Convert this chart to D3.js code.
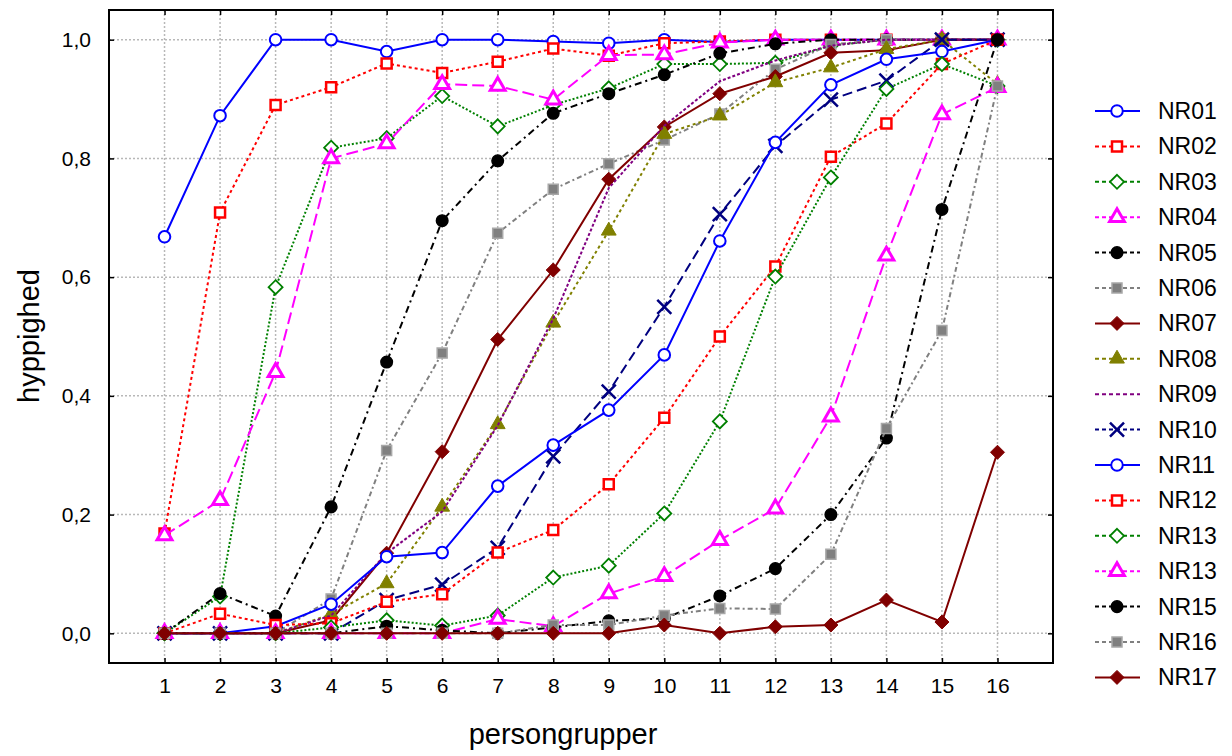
<!DOCTYPE html>
<html><head><meta charset="utf-8">
<script src="https://cdn.jsdelivr.net/npm/d3@7"></script>
<style>body{margin:0;background:#fff}svg{display:block}text{font-family:"Liberation Sans",Arial,sans-serif;fill:#000}</style>
</head><body><svg id="c" width="1232" height="756"></svg>
<script>
const groups = [1,2,3,4,5,6,7,8,9,10,11,12,13,14,15,16];
const yTicks = [0,0.2,0.4,0.6,0.8,1.0];
const seriesNames = ["NR01","NR02","NR03","NR04","NR05","NR06","NR07","NR08","NR09","NR10","NR11","NR12","NR13","NR13","NR15","NR16","NR17"];
const NR01 = [0.668,0.872,1,1,0.980,1,1,0.997,0.994,1,0.996,1,1,1,1,1];
const NR02 = [0.168,0.709,0.890,0.920,0.960,0.944,0.963,0.985,0.973,0.994,0.997,1,1,1,1,1];
const NR03 = [0,0.062,0.583,0.818,0.834,0.905,0.854,0.890,0.918,0.959,0.959,0.961,0.990,1,1,1];
const NR04 = [0.165,0.224,0.440,0.800,0.825,0.925,0.922,0.899,0.974,0.975,0.995,1,1,1,1,1];
const NR05 = [0,0.067,0.029,0.213,0.457,0.695,0.796,0.876,0.909,0.941,0.977,0.993,1,1,1,1];
const NR06 = [0,0,0,0.058,0.308,0.472,0.674,0.748,0.791,0.831,0.875,0.950,0.992,1,1,1];
const NR07 = [0,0,0,0.022,0.135,0.306,0.495,0.612,0.765,0.853,0.909,0.938,0.978,0.982,1,1];
const NR08 = [0,0,0,0.032,0.084,0.213,0.352,0.523,0.678,0.841,0.872,0.928,0.953,0.984,1,0.925];
const NR09 = [0,0,0,0.030,0.135,0.205,0.350,0.530,0.750,0.855,0.930,0.965,0.990,1,1,1];
const NR10 = [0,0,0,0,0.056,0.082,0.144,0.298,0.407,0.550,0.706,0.821,0.899,0.931,1,1];
const NR11 = [0,0,0.012,0.049,0.129,0.136,0.248,0.317,0.376,0.469,0.661,0.827,0.924,0.967,0.980,1];
const NR12 = [0,0.033,0.014,0.017,0.053,0.066,0.136,0.174,0.251,0.363,0.500,0.618,0.803,0.859,0.959,1];
const NR13 = [0,0,0,0.010,0.022,0.013,0.030,0.094,0.114,0.202,0.357,0.601,0.768,0.917,0.959,0.922];
const NR13b = [0,0,0,0,0,0,0.024,0.012,0.067,0.096,0.157,0.210,0.365,0.636,0.874,0.920];
const NR15 = [0,0,0,0,0.012,0.005,0,0.010,0.021,0.025,0.063,0.109,0.200,0.329,0.714,1];
const NR16 = [0,0,0,0,0,0,0,0.014,0.014,0.030,0.042,0.041,0.133,0.345,0.510,0.922];
const NR17 = [0,0,0,0,0,0,0,0,0,0.014,0,0.011,0.014,0.056,0.019,0.305];
const seriesValues = [NR01,NR02,NR03,NR04,NR05,NR06,NR07,NR08,NR09,NR10,NR11,NR12,NR13,NR13b,NR15,NR16,NR17];

// styles (kept separate from data)
const baseStyles = [
  {color:"#0000ff", dash:null, w:2, sym:"circle", fill:"#fff", stroke:"#0000ff", sw:2},
  {color:"#ff0000", dash:"3,3", w:2, sym:"square", fill:"#fff", stroke:"#ff0000", sw:2.5},
  {color:"#008000", dash:"2,2", w:2, sym:"diamond", fill:"#fff", stroke:"#008000", sw:1.8},
  {color:"#ff00ff", dash:"12,5", w:2, sym:"triangle", fill:"#fff", stroke:"#ff00ff", sw:3},
  {color:"#000000", dash:"7,4,2,4", w:2, sym:"circle", fill:"#000", stroke:"#000", sw:1.5},
  {color:"#808080", dash:"5,3,2,3", w:2, sym:"square", fill:"#808080", stroke:"#a8a8a8", sw:1.5},
  {color:"#800000", dash:null, w:2, sym:"diamond", fill:"#800000", stroke:"#800000", sw:1},
  {color:"#808000", dash:"3,3", w:2, sym:"triangle", fill:"#808000", stroke:"#808000", sw:1},
  {color:"#800080", dash:"3,2", w:2, sym:null},
  {color:"#000080", dash:"10,5", w:2, sym:"times", fill:"none", stroke:"#000080", sw:2.5}
];
const styles = seriesNames.map((n,i)=> i<10 ? baseStyles[i] : baseStyles[i-10]);

const svg = d3.select("#c");
const L=109, R=1053, T=10, B=663;
const x = d3.scaleLinear().domain([0,17]).range([L,R]);
const y = d3.scaleLinear().domain([-0.05,1.05]).range([B,T]);

// grid
const g = svg.append("g");
g.selectAll(".gx").data(groups).join("line")
  .attr("x1",d=>x(d)).attr("x2",d=>x(d)).attr("y1",T).attr("y2",B)
  .attr("stroke","#b8b8b8").attr("stroke-width",1.5).attr("stroke-dasharray","2,2");
g.selectAll(".gy").data(yTicks).join("line")
  .attr("x1",L).attr("x2",R).attr("y1",d=>y(d)).attr("y2",d=>y(d))
  .attr("stroke","#b8b8b8").attr("stroke-width",1.5).attr("stroke-dasharray","2,2");

// axes with inward ticks
const fmt = d=>d3.format(".1f")(d).replace(".",",");
const axB = svg.append("g").attr("transform",`translate(0,${B})`)
  .call(d3.axisBottom(x).tickValues(groups).tickSizeInner(-5).tickSizeOuter(0).tickPadding(15));
const axT = svg.append("g").attr("transform",`translate(0,${T})`)
  .call(d3.axisTop(x).tickValues(groups).tickSizeInner(-5).tickSizeOuter(0).tickFormat(""));
const axL = svg.append("g").attr("transform",`translate(${L},0)`)
  .call(d3.axisLeft(y).tickValues(yTicks).tickSizeInner(-5).tickSizeOuter(0).tickPadding(18).tickFormat(fmt));
const axR = svg.append("g").attr("transform",`translate(${R},0)`)
  .call(d3.axisRight(y).tickValues(yTicks).tickSizeInner(-5).tickSizeOuter(0).tickFormat(""));
[axB,axT,axL,axR].forEach(a=>{
  a.select(".domain").remove();
  a.selectAll(".tick line").attr("stroke","#000").attr("stroke-width",1.5);
  a.selectAll(".tick text").attr("font-size",21).attr("font-family","Liberation Sans, Arial, sans-serif").attr("fill","#000");
});
svg.append("rect").attr("x",L).attr("y",T).attr("width",R-L).attr("height",B-T)
  .attr("fill","none").attr("stroke","#000").attr("stroke-width",2);

// symbols
function symPath(sym){
  if(sym==="diamond"){ const h=7; return `M0,${-h}L${h},0L0,${h}L${-h},0Z`; }
  const map = {circle:[d3.symbolCircle,105], square:[d3.symbolSquare,100],
               triangle:[d3.symbolTriangle,95], times:[d3.symbolTimes,130]};
  const m = map[sym];
  return d3.symbol().type(m[0]).size(m[1])();
}

const line = d3.line().x((d,i)=>x(groups[i])).y(d=>y(d));
const plot = svg.append("g");
seriesValues.forEach((vals,si)=>{
  const st = styles[si];
  const sg = plot.append("g");
  sg.append("path").attr("d",line(vals)).attr("fill","none").attr("stroke",st.color)
    .attr("stroke-width",st.w).attr("stroke-dasharray",st.dash);
  if(st.sym){
    sg.selectAll("path.m").data(vals).join("path").attr("class","m")
      .attr("d",symPath(st.sym))
      .attr("transform",(d,i)=>`translate(${x(groups[i])},${y(d)})`)
      .attr("fill",st.fill).attr("stroke",st.stroke).attr("stroke-width",st.sw);
  }
});

// axis titles
svg.append("text").attr("x",563).attr("y",744).attr("text-anchor","middle")
  .attr("font-size",29).text("persongrupper");
svg.append("text").attr("transform","translate(39,336) rotate(-90)").attr("text-anchor","middle")
  .attr("font-size",29).text("hyppighed");

// legend
const leg = svg.append("g");
seriesNames.forEach((n,i)=>{
  const st = styles[i];
  const ly = 111 + i*35.4;
  leg.append("line").attr("x1",1095).attr("x2",1140).attr("y1",ly).attr("y2",ly)
    .attr("stroke",st.color).attr("stroke-width",2).attr("stroke-dasharray",st.dash ? "4,3" : null);
  if(st.sym){
    leg.append("path").attr("d",symPath(st.sym)).attr("transform",`translate(1117,${ly})`)
      .attr("fill",st.fill).attr("stroke",st.stroke).attr("stroke-width",st.sw);
  }
  leg.append("text").attr("x",1158).attr("y",ly+8).attr("font-size",23).text(n);
});
</script></body></html>
